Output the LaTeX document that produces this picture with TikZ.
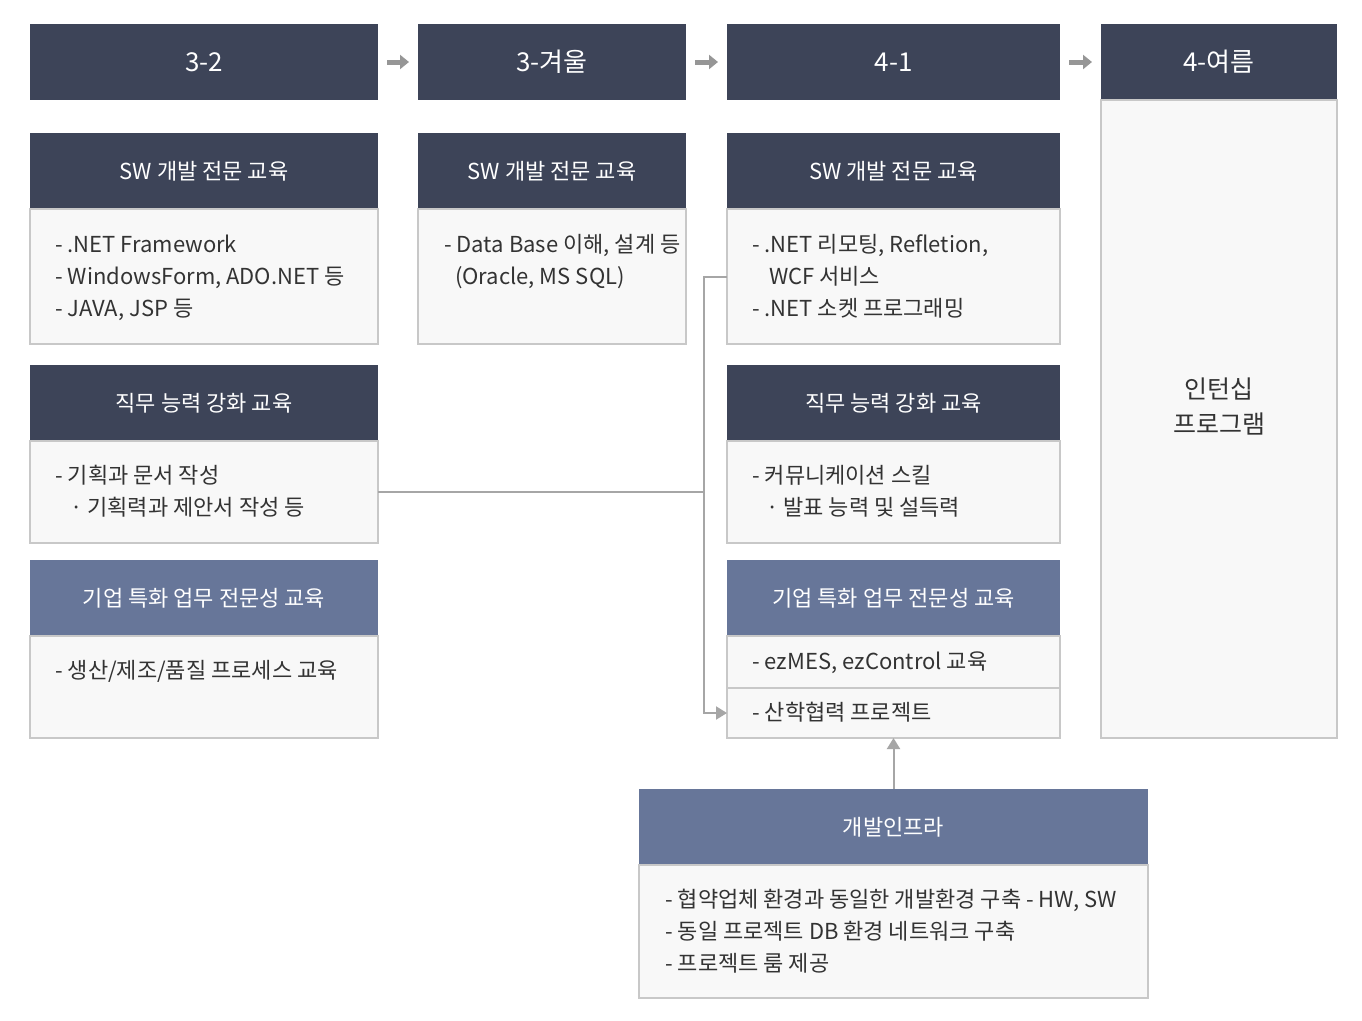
\documentclass[tikz,border=0pt]{standalone}
\usepackage{fontspec}
\setmainfont{Noto Sans CJK KR}
\usetikzlibrary{arrows.meta}
\definecolor{navy}{HTML}{3D4458}
\definecolor{slate}{HTML}{677699}
\definecolor{bodyfill}{HTML}{F8F8F8}
\definecolor{bodyline}{HTML}{C8C8C8}
\definecolor{conncol}{HTML}{A6A6A6}
\definecolor{arrcol}{HTML}{969696}
\definecolor{txtcol}{HTML}{333333}
\tikzset{
  box/.style={anchor=north west, inner sep=0pt, outer sep=0pt},
  hdr/.style={box, fill=navy, text=white, font=\fontsize{22}{26}\selectfont},
  toph/.style={box, fill=navy, text=white, font=\fontsize{26}{30}\selectfont},
  subh/.style={box, fill=slate, text=white, font=\fontsize{22}{26}\selectfont},
  bodyb/.style={box, fill=bodyfill, draw=bodyline, line width=1.5pt},
  txt/.style={anchor=base west, inner sep=0pt, text=txtcol, font=\fontsize{22}{26}\selectfont},
  conn/.style={draw=conncol, line width=2pt},
  tip/.style={-{Triangle[length=11pt,width=13pt]}},
  steparrow/.style={draw=arrcol, line width=5pt, -{Triangle[length=9pt,width=14pt]}, shorten <=9pt, shorten >=9pt},
}
\begin{document}
\begin{tikzpicture}[x=1pt,y=-1pt]
\useasboundingbox[fill=white] (0,0) rectangle (1362,1020);
% top headers
\node[toph, minimum width=348pt, minimum height=76pt] (h1) at (30,24) {3-2};
\node[toph, minimum width=268pt, minimum height=76pt] (h2) at (418,24) {3-겨울};
\node[toph, minimum width=333pt, minimum height=76pt] (h3) at (727,24) {4-1};
\node[toph, minimum width=236pt, minimum height=76pt] (h4) at (1101,24) {4-여름};
\draw[steparrow] (h1.east) -- (h2.west);
\draw[steparrow] (h2.east) -- (h3.west);
\draw[steparrow] (h3.east) -- (h4.west);
% column 4 body
\node[bodyb, minimum width=236pt, minimum height=638pt] (b4) at (1101,100) {};
\node[anchor=center, inner sep=0pt, text=txtcol, align=center, font=\fontsize{25}{35}\selectfont] (intern) at (1219,406) {인턴십\\프로그램};
% column 1
\node[hdr, minimum width=348pt, minimum height=76pt] (s1h) at (30,133) {SW 개발 전문 교육};
\node[bodyb, minimum width=348pt, minimum height=135pt] (s1b) at (30,209) {};
\node[txt] (s1t1) at (55,252.5) {- .NET Framework};
\node[txt] (s1t2) at (55,284.5) {- WindowsForm, ADO.NET 등};
\node[txt] (s1t3) at (55,316.5) {- JAVA, JSP 등};
\node[hdr, minimum width=348pt, minimum height=76pt] (j1h) at (30,365) {직무 능력 강화 교육};
\node[bodyb, minimum width=348pt, minimum height=102pt] (j1b) at (30,441) {};
\node[txt] (j1t1) at (55,483.5) {- 기획과 문서 작성};
\node[txt] (j1t2) at (70,515.5) {· 기획력과 제안서 작성 등};
\node[subh, minimum width=348pt, minimum height=76pt] (k1h) at (30,560) {기업 특화 업무 전문성 교육};
\node[bodyb, minimum width=348pt, minimum height=102pt] (k1b) at (30,636) {};
\node[txt] (k1t1) at (55,678.5) {- 생산/제조/품질 프로세스 교육};
% column 2
\node[hdr, minimum width=268pt, minimum height=76pt] (s2h) at (418,133) {SW 개발 전문 교육};
\node[bodyb, minimum width=268pt, minimum height=135pt] (s2b) at (418,209) {};
\node[txt] (s2t1) at (444,252.5) {- Data Base 이해, 설계 등};
\node[txt] (s2t2) at (455,284.5) {(Oracle, MS SQL)};
% column 3
\node[hdr, minimum width=333pt, minimum height=76pt] (s3h) at (727,133) {SW 개발 전문 교육};
\node[bodyb, minimum width=333pt, minimum height=135pt] (s3b) at (727,209) {};
\node[txt] (s3t1) at (752,252.5) {- .NET 리모팅, Refletion,};
\node[txt] (s3t2) at (769,284.5) {WCF 서비스};
\node[txt] (s3t3) at (752,316.5) {- .NET 소켓 프로그래밍};
\node[hdr, minimum width=333pt, minimum height=76pt] (j3h) at (727,365) {직무 능력 강화 교육};
\node[bodyb, minimum width=333pt, minimum height=102pt] (j3b) at (727,441) {};
\node[txt] (j3t1) at (752,483.5) {- 커뮤니케이션 스킬};
\node[txt] (j3t2) at (766,515.5) {· 발표 능력 및 설득력};
\node[subh, minimum width=333pt, minimum height=76pt] (k3h) at (727,560) {기업 특화 업무 전문성 교육};
\node[bodyb, minimum width=333pt, minimum height=52pt] (k3a) at (727,636) {};
\node[bodyb, minimum width=333pt, minimum height=50pt] (k3b) at (727,688) {};
\node[txt] (k3t1) at (752,669.5) {- ezMES, ezControl 교육};
\node[txt] (k3t2) at (752,720.5) {- 산학협력 프로젝트};
% infra
\node[subh, minimum width=509pt, minimum height=76pt] (ih) at (639,789) {개발인프라};
\node[bodyb, minimum width=509pt, minimum height=133pt] (ib) at (639,865) {};
\node[txt] (it1) at (665,907.5) {- 협약업체 환경과 동일한 개발환경 구축 - HW, SW};
\node[txt] (it2) at (665,939.5) {- 동일 프로젝트 DB 환경 네트워크 구축};
\node[txt] (it3) at (665,971.5) {- 프로젝트 룸 제공};
% connectors
\coordinate (bend) at (704,0);
\draw[conn] (j1b.east) -- (j1b.east -| bend);
\draw[conn, tip] (s3b.west) -- (s3b.west -| bend) |- (k3b.west);
\draw[conn, tip] (ih.north) -- (ih.north |- k3b.south);
\end{tikzpicture}
\end{document}
